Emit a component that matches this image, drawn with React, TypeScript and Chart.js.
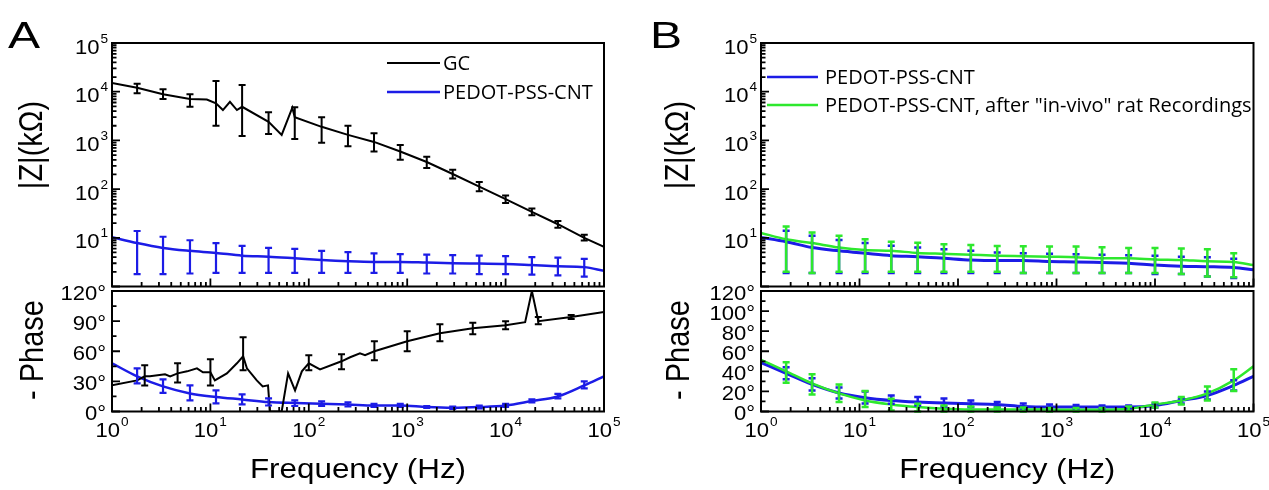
import React, { useEffect, useRef } from "react";
import { Chart, registerables } from "chart.js";

Chart.register(...registerables);

const PAGE_W = 1269;
const PAGE_H = 490;

// ---------- frequency grids (Hz) ----------
const FREQ = [1, 1.8, 3.3, 6.2, 11.4, 21, 39, 72, 135, 250, 460, 850, 1580, 2900, 5400, 10000, 18500, 34000, 63000, 100000];
const FREQ_ERR = [1.8, 3.3, 6.2, 11.4, 21, 39, 72, 135, 250, 460, 850, 1580, 2900, 5400, 10000, 18500, 34000, 63000];

// ---------- Panel A : |Z| (kOhm) ----------
const GC_Z_FREQ = [1, 1.8, 3.3, 6.2, 9.2, 11.4, 13.4, 15.8, 18.6, 21, 39, 53, 68, 72, 135, 250, 460, 850, 1580, 2900, 5400, 10000, 18500, 34000, 63000, 100000];
const GC_Z = [15100, 12000, 8900, 7100, 6900, 5750, 4200, 6200, 4200, 4900, 2400, 1300, 4700, 3000, 1900, 1300, 930, 590, 360, 204, 112, 62, 34, 19, 10, 6.5];
const GC_Z_LO = [9300, 7100, 4900, 2000, 1230, 1350, 1070, 890, 760, 590, 400, 270, 165, 90, 52, 29, 16, 8.8];
const GC_Z_HI = [14500, 11200, 8900, 16600, 13800, 3800, 4800, 3000, 2000, 1400, 800, 460, 250, 140, 74, 40, 22, 11.5];

const PA_Z = [10.3, 7.8, 6.2, 5.4, 4.9, 4.3, 4.1, 3.8, 3.5, 3.3, 3.2, 3.2, 3.1, 3.0, 2.95, 2.9, 2.75, 2.6, 2.5, 2.1];
const PA_Z_LO = [1.8, 1.8, 1.85, 1.9, 1.9, 1.9, 1.9, 1.9, 1.9, 1.9, 1.9, 1.85, 1.85, 1.8, 1.8, 1.75, 1.7, 1.6];
const PA_Z_HI = [13.8, 10.5, 8.9, 7.8, 6.8, 6.2, 5.9, 5.4, 5.1, 4.8, 4.6, 4.5, 4.4, 4.3, 4.2, 4.0, 3.9, 3.7];

// ---------- Panel A : -Phase (deg) ----------
const GC_P_FREQ = [1, 1.8, 2.15, 2.43, 3.46, 3.9, 4.64, 5.8, 7.3, 8.4, 10, 11.1, 14.7, 18.6, 21.5, 23.5, 29.6, 34, 38.5, 40.3, 53, 61.6, 72.5, 85, 100, 130, 215, 263, 331, 373, 464, 1000, 2150, 4640, 10000, 15800, 18500, 21500, 46400, 100000];
const GC_P = [26, 31, 35, 35, 37, 35, 38, 40, 43, 39, 39, 31, 38, 48, 55, 43, 31, 25, 26, 0, 0, 38, 21, 40, 48, 42, 50, 54, 58, 56, 60, 70, 78, 83, 86, 89, 120, 90, 94, 99];
const GC_P_ERR_FREQ = [2.15, 4.64, 10, 21.5, 100, 215, 464, 1000, 2150, 4640, 10000, 21500, 46400];
const GC_P_LO = [26, 29, 26, 41, 41, 42, 51, 60, 70, 77, 82, 87, 92];
const GC_P_HI = [46, 48, 52, 74, 56, 57, 70, 80, 87, 88.5, 90, 94, 96];

const PA_P = [48, 35, 25, 18, 14.5, 12, 9.4, 8.4, 7.7, 7, 6, 6, 4.4, 3.7, 4.4, 6, 10.4, 15, 26, 35];
const PA_P_LO = [28, 18.5, 11, 8, 7, 6, 5.5, 5.5, 5, 4.5, 4.5, 3.5, 2.5, 3, 4.5, 9, 13, 23];
const PA_P_HI = [43, 32, 26, 21, 17, 13, 11, 10, 9, 7.5, 7.5, 5.5, 5, 6, 7.5, 12, 17.5, 30];

// ---------- Panel B : |Z| (kOhm) ----------
const PB_Z = [10.2, 8.3, 6.3, 5.4, 4.8, 4.3, 4.1, 3.8, 3.5, 3.4, 3.4, 3.25, 3.2, 3.1, 3.0, 2.75, 2.6, 2.55, 2.45, 2.2];
const PB_Z_LO = [1.9, 1.9, 1.9, 1.9, 1.9, 1.9, 1.9, 1.9, 1.9, 1.9, 1.9, 1.9, 1.9, 1.9, 1.8, 1.8, 1.6, 1.5];
const PB_Z_HI = [14, 11, 9, 7.8, 6.9, 6.3, 5.8, 5.4, 5.0, 4.8, 4.7, 4.6, 4.5, 4.4, 4.3, 4.1, 4.0, 3.7];
const RB_Z = [12.6, 9.3, 7.8, 6.3, 5.6, 5.4, 4.9, 4.7, 4.5, 4.3, 4.2, 4.1, 4.0, 3.8, 3.8, 3.6, 3.5, 3.3, 3.2, 2.75];
const RB_Z_LO = [2.0, 1.9, 2.0, 2.0, 2.0, 2.0, 2.0, 2.0, 2.0, 1.9, 1.9, 1.9, 1.9, 1.9, 1.9, 1.8, 1.6, 1.55];
const RB_Z_HI = [17, 12.9, 11, 9.3, 8.3, 7.9, 7.4, 7.1, 6.8, 6.7, 6.6, 6.6, 6.4, 6.2, 6.2, 6.0, 5.8, 4.8];

// ---------- Panel B : -Phase (deg) ----------
const PB_P = [48.8, 38, 27, 18.5, 13.8, 11, 9.4, 8.4, 7.7, 7, 5, 4.4, 4.4, 4.4, 4.4, 6, 11, 16, 26, 35];
const PB_P_LO = [32, 21, 13, 8, 7.7, 6, 5, 4.4, 4.4, 3, 3, 3, 3, 3, 4, 8, 12, 21];
const PB_P_HI = [44, 33, 24, 20, 16, 14.5, 13, 11, 9.4, 8, 7, 6.5, 6, 6, 8, 13, 20, 31];
const RB_P = [51.5, 40, 28, 18, 11, 7, 4.4, 2.7, 2, 2, 2, 1.8, 1.7, 1.7, 2.7, 7, 11, 18, 31, 45];
const RB_P_LO = [28.6, 17, 9.4, 4.4, 1, 0, 0, 0, 0, 0, 0, 0, 0, 0.5, 4, 7, 11, 20.5];
const RB_P_HI = [49, 37, 27, 20.5, 12.8, 7.7, 6, 5, 4, 4, 3.5, 3.5, 3.5, 5, 9, 14.5, 25, 42];

// ---------- axes / ticks ----------
const X_EXPONENTS = [0, 1, 2, 3, 4, 5];
const Z_EXPONENTS = [1, 2, 3, 4, 5];
const PHASE_A_MAJOR = [0, 30, 60, 90, 120];
const PHASE_A_MINOR = [15, 45, 75, 105];
const PHASE_B_MAJOR = [0, 20, 40, 60, 80, 100, 120];
const PHASE_B_MINOR = [10, 30, 50, 70, 90, 110];

const LABEL_GC = "GC";
const LABEL_PED = "PEDOT-PSS-CNT";
const LABEL_REC = 'PEDOT-PSS-CNT, after "in-vivo" rat Recordings';

const BLACK = "#000000";
const BLUE = "#1c1ce6";
const GREEN = "#2ee82e";

const SANS = '"Liberation Sans", Arial, Helvetica, sans-serif';
const LEG = '"Open Sans", "Noto Sans", sans-serif';

function logMajor(a: number, b: number) {
  const out: number[] = [];
  for (let n = a; n <= b; n++) out.push(Math.pow(10, n));
  return out;
}
function logMinor(a: number, b: number) {
  const out: number[] = [];
  for (let n = a; n < b; n++) for (let k = 2; k <= 9; k++) out.push(k * Math.pow(10, n));
  return out;
}

type Series = { label: string; f: number[]; v: number[]; color: string; width: number; smooth: boolean; order: number };
type ErrBars = { f: number[]; lo: number[]; hi: number[]; color: string; width: number; cap: number };
type Spec = {
  id: string;
  box: { l: number; t: number; r: number; b: number };
  yLog: boolean;
  yMin: number;
  yMax: number;
  yMajor: number[];
  yMinor: number[];
  yPowLabels?: number[];
  yDegLabels?: number[];
  xLabels: boolean;
  series: Series[];
  errs: ErrBars[];
  legend?: { x0: number; x1: number; tx: number; items: { label: string; color: string; y: number; w: number }[] };
  yTitle: { text: string; x: number; y: number };
  xTitle?: { text: string; y: number };
  panel?: { text: string; x: number; y: number };
};

function txt(
  ctx: CanvasRenderingContext2D,
  s: string,
  x: number,
  y: number,
  size: number,
  o: { align?: CanvasTextAlign; base?: CanvasTextBaseline; sx?: number; rot?: number; family?: string } = {}
) {
  ctx.save();
  ctx.translate(x, y);
  ctx.scale(o.sx ?? 1, 1);
  if (o.rot) ctx.rotate(o.rot);
  ctx.font = `${size}px ${o.family ?? SANS}`;
  ctx.textAlign = o.align ?? "left";
  ctx.textBaseline = o.base ?? "alphabetic";
  ctx.fillStyle = "#000";
  ctx.fillText(s, 0, 0);
  ctx.restore();
}

function pow10(ctx: CanvasRenderingContext2D, n: number, x: number, yc: number, align: "right" | "center") {
  const sx = 1.05;
  ctx.font = `21px ${SANS}`;
  const w1 = ctx.measureText("10").width * sx;
  ctx.font = `13px ${SANS}`;
  const w2 = ctx.measureText(String(n)).width * sx;
  const total = w1 + w2 + 1;
  const x0 = align === "right" ? x - total : x - total / 2;
  txt(ctx, "10", x0, yc + 7.5, 21, { sx });
  txt(ctx, String(n), x0 + w1 + 1, yc - 3.5, 13, { sx });
}

function decor(sp: Spec) {
  return {
    id: "decor_" + sp.id,
    afterDatasetsDraw(chart: any) {
      const ctx: CanvasRenderingContext2D = chart.ctx;
      const xs = chart.scales.x;
      const ys = chart.scales.y;
      ctx.save();
      ctx.lineCap = "butt";
      sp.errs.forEach((e) => {
        ctx.strokeStyle = e.color;
        ctx.lineWidth = e.width;
        e.f.forEach((f, i) => {
          const px = xs.getPixelForValue(f);
          const y1 = ys.getPixelForValue(e.lo[i]);
          const y2 = ys.getPixelForValue(e.hi[i]);
          ctx.beginPath();
          ctx.moveTo(px, y1);
          ctx.lineTo(px, y2);
          ctx.moveTo(px - e.cap, y1);
          ctx.lineTo(px + e.cap, y1);
          ctx.moveTo(px - e.cap, y2);
          ctx.lineTo(px + e.cap, y2);
          ctx.stroke();
        });
      });
      ctx.restore();
    },
    afterDraw(chart: any) {
      const ctx: CanvasRenderingContext2D = chart.ctx;
      const xs = chart.scales.x;
      const ys = chart.scales.y;
      const a = chart.chartArea;
      ctx.save();
      ctx.strokeStyle = "#000";
      ctx.lineWidth = 2;
      ctx.strokeRect(a.left, a.top, a.right - a.left, a.bottom - a.top);
      ctx.lineWidth = 1.8;
      ctx.beginPath();
      const tickY = (v: number, len: number) => {
        const py = ys.getPixelForValue(v);
        ctx.moveTo(a.left, py);
        ctx.lineTo(a.left + len, py);
      };
      const tickX = (v: number, len: number) => {
        const px = xs.getPixelForValue(v);
        ctx.moveTo(px, a.bottom);
        ctx.lineTo(px, a.bottom - len);
      };
      sp.yMajor.forEach((v) => tickY(v, 8));
      sp.yMinor.forEach((v) => tickY(v, 4.5));
      logMajor(0, 5).forEach((v) => tickX(v, 8));
      logMinor(0, 5).forEach((v) => tickX(v, 4.5));
      ctx.stroke();
      ctx.restore();

      if (sp.yPowLabels) {
        sp.yPowLabels.forEach((n) => pow10(ctx, n, a.left - 4, ys.getPixelForValue(Math.pow(10, n)) + 3, "right"));
      }
      if (sp.yDegLabels) {
        sp.yDegLabels.forEach((v) =>
          txt(ctx, `${v}°`, a.left - 6, ys.getPixelForValue(v) + 8.5, 21, { align: "right", sx: 1.05 })
        );
      }
      if (sp.xLabels) {
        X_EXPONENTS.forEach((n) => pow10(ctx, n, xs.getPixelForValue(Math.pow(10, n)), a.bottom + 18, "center"));
      }
      txt(ctx, sp.yTitle.text, sp.yTitle.x, sp.yTitle.y, 29, { align: "center", base: "middle", rot: -Math.PI / 2, sx: 1.15 });
      if (sp.xTitle) {
        txt(ctx, sp.xTitle.text, (a.left + a.right) / 2, sp.xTitle.y, 28, { align: "center", base: "middle", sx: 1.12 });
      }
      if (sp.panel) {
        txt(ctx, sp.panel.text, sp.panel.x, sp.panel.y, 37, { sx: 1.3 });
      }
      if (sp.legend) {
        const L = sp.legend;
        L.items.forEach((it) => {
          ctx.save();
          ctx.strokeStyle = it.color;
          ctx.lineWidth = it.w;
          ctx.beginPath();
          ctx.moveTo(L.x0, it.y);
          ctx.lineTo(L.x1, it.y);
          ctx.stroke();
          ctx.restore();
          txt(ctx, it.label, L.tx, it.y + 1, 20, { base: "middle", family: LEG });
        });
      }
    },
  };
}

const TOP = { t: 43, b: 286.5 };
const BOT = { t: 291, b: 411.5 };
const AX = { l: 112, r: 604 };
const BX = { l: 761, r: 1253.5 };

const SPECS: Spec[] = [
  {
    id: "a_top",
    box: { l: AX.l, r: AX.r, t: TOP.t, b: TOP.b },
    yLog: true,
    yMin: 1,
    yMax: 1e5,
    yMajor: logMajor(0, 5),
    yMinor: logMinor(0, 5),
    yPowLabels: Z_EXPONENTS,
    xLabels: false,
    series: [
      { label: LABEL_GC, f: GC_Z_FREQ, v: GC_Z, color: BLACK, width: 2, smooth: false, order: 0 },
      { label: LABEL_PED, f: FREQ, v: PA_Z, color: BLUE, width: 2.5, smooth: true, order: 1 },
    ],
    errs: [
      { f: FREQ_ERR, lo: PA_Z_LO, hi: PA_Z_HI, color: BLUE, width: 2.2, cap: 3.5 },
      { f: FREQ_ERR, lo: GC_Z_LO, hi: GC_Z_HI, color: BLACK, width: 2, cap: 3.5 },
    ],
    legend: {
      x0: 387,
      x1: 440,
      tx: 443,
      items: [
        { label: LABEL_GC, color: BLACK, y: 63, w: 2 },
        { label: LABEL_PED, color: BLUE, y: 92, w: 2.5 },
      ],
    },
    yTitle: { text: "|Z|(kΩ)", x: 33, y: 145 },
    panel: { text: "A", x: 8, y: 48 },
  },
  {
    id: "a_bot",
    box: { l: AX.l, r: AX.r, t: BOT.t, b: BOT.b },
    yLog: false,
    yMin: 0,
    yMax: 120,
    yMajor: PHASE_A_MAJOR,
    yMinor: PHASE_A_MINOR,
    yDegLabels: PHASE_A_MAJOR,
    xLabels: true,
    series: [
      { label: LABEL_GC, f: GC_P_FREQ, v: GC_P, color: BLACK, width: 2, smooth: false, order: 0 },
      { label: LABEL_PED, f: FREQ, v: PA_P, color: BLUE, width: 2.5, smooth: true, order: 1 },
    ],
    errs: [
      { f: FREQ_ERR, lo: PA_P_LO, hi: PA_P_HI, color: BLUE, width: 2.2, cap: 3.5 },
      { f: GC_P_ERR_FREQ, lo: GC_P_LO, hi: GC_P_HI, color: BLACK, width: 2, cap: 3.5 },
    ],
    yTitle: { text: "- Phase", x: 34, y: 350 },
    xTitle: { text: "Frequency (Hz)", y: 470 },
  },
  {
    id: "b_top",
    box: { l: BX.l, r: BX.r, t: TOP.t, b: TOP.b },
    yLog: true,
    yMin: 1,
    yMax: 1e5,
    yMajor: logMajor(0, 5),
    yMinor: logMinor(0, 5),
    yPowLabels: Z_EXPONENTS,
    xLabels: false,
    series: [
      { label: LABEL_REC, f: FREQ, v: RB_Z, color: GREEN, width: 2.5, smooth: true, order: 0 },
      { label: LABEL_PED, f: FREQ, v: PB_Z, color: BLUE, width: 3, smooth: true, order: 1 },
    ],
    errs: [
      { f: FREQ_ERR, lo: PB_Z_LO, hi: PB_Z_HI, color: BLUE, width: 2.5, cap: 3.5 },
      { f: FREQ_ERR, lo: RB_Z_LO, hi: RB_Z_HI, color: GREEN, width: 2.5, cap: 3.5 },
    ],
    legend: {
      x0: 767,
      x1: 818,
      tx: 825,
      items: [
        { label: LABEL_PED, color: BLUE, y: 77, w: 2.5 },
        { label: LABEL_REC, color: GREEN, y: 105, w: 2.5 },
      ],
    },
    yTitle: { text: "|Z|(kΩ)", x: 679, y: 145 },
    panel: { text: "B", x: 650, y: 48 },
  },
  {
    id: "b_bot",
    box: { l: BX.l, r: BX.r, t: BOT.t, b: BOT.b },
    yLog: false,
    yMin: 0,
    yMax: 120,
    yMajor: PHASE_B_MAJOR,
    yMinor: PHASE_B_MINOR,
    yDegLabels: PHASE_B_MAJOR,
    xLabels: true,
    series: [
      { label: LABEL_REC, f: FREQ, v: RB_P, color: GREEN, width: 2.5, smooth: true, order: 0 },
      { label: LABEL_PED, f: FREQ, v: PB_P, color: BLUE, width: 3, smooth: true, order: 1 },
    ],
    errs: [
      { f: FREQ_ERR, lo: PB_P_LO, hi: PB_P_HI, color: BLUE, width: 2.5, cap: 3.5 },
      { f: FREQ_ERR, lo: RB_P_LO, hi: RB_P_HI, color: GREEN, width: 2.5, cap: 3.5 },
    ],
    yTitle: { text: "- Phase", x: 680, y: 350 },
    xTitle: { text: "Frequency (Hz)", y: 470 },
  },
];

function buildConfig(sp: Spec): any {
  return {
    type: "line",
    data: {
      datasets: sp.series.map((s) => ({
        label: s.label,
        data: s.f.map((f, i) => ({ x: f, y: s.v[i] })),
        borderColor: s.color,
        backgroundColor: s.color,
        borderWidth: s.width,
        pointRadius: 0,
        fill: false,
        tension: s.smooth ? 0.4 : 0,
        cubicInterpolationMode: s.smooth ? "monotone" : "default",
        order: s.order,
      })),
    },
    options: {
      responsive: false,
      animation: false,
      devicePixelRatio: 1,
      events: [],
      layout: {
        padding: { left: sp.box.l, top: sp.box.t, right: PAGE_W - sp.box.r, bottom: PAGE_H - sp.box.b },
      },
      plugins: { legend: { display: false }, tooltip: { enabled: false }, title: { display: false } },
      scales: {
        x: { type: "logarithmic", min: 1, max: 1e5, display: false },
        y: sp.yLog
          ? { type: "logarithmic", min: sp.yMin, max: sp.yMax, display: false }
          : { type: "linear", min: sp.yMin, max: sp.yMax, display: false },
      },
    },
    plugins: [decor(sp)],
  };
}

export default function App() {
  const canvases = useRef<(HTMLCanvasElement | null)[]>([]);
  useEffect(() => {
    const charts = SPECS.map((sp, i) => new Chart(canvases.current[i] as HTMLCanvasElement, buildConfig(sp)));
    return () => charts.forEach((c) => c.destroy());
  }, []);
  return (
    <div style={{ position: "absolute", left: 0, top: 0, width: PAGE_W, height: PAGE_H, background: "#fff", overflow: "hidden" }}>
      {SPECS.map((sp, i) => (
        <canvas
          key={sp.id}
          ref={(el) => {
            canvases.current[i] = el;
          }}
          width={PAGE_W}
          height={PAGE_H}
          style={{ position: "absolute", left: 0, top: 0, width: PAGE_W, height: PAGE_H }}
        />
      ))}
    </div>
  );
}
